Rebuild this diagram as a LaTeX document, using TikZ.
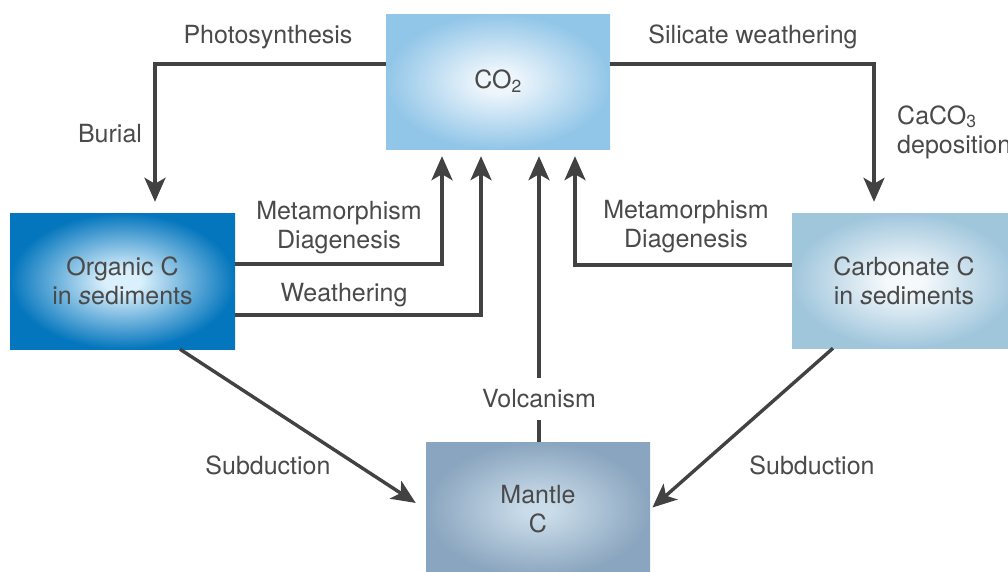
\documentclass[tikz,border=0pt]{standalone}
\usepackage{fontspec}
\setmainfont{TeX Gyre Heros}
\usetikzlibrary{arrows.meta}
\definecolor{txt}{HTML}{4A4A4A}
\definecolor{ln}{HTML}{424242}
\definecolor{coin}{RGB}{238,246,252}
\definecolor{coout}{RGB}{146,198,232}
\definecolor{orin}{RGB}{218,240,252}
\definecolor{orout}{RGB}{4,118,189}
\definecolor{cain}{RGB}{245,249,252}
\definecolor{caout}{RGB}{160,198,220}
\definecolor{main}{RGB}{202,220,233}
\definecolor{maout}{RGB}{138,165,191}
\pgfdeclareradialshading{coshade}{\pgfpoint{0bp}{0bp}}{color(0bp)=(coin); color(4bp)=(coin); color(25bp)=(coout); color(50bp)=(coout)}
\pgfdeclareradialshading{orshade}{\pgfpoint{0bp}{0bp}}{color(0bp)=(orin); color(4bp)=(orin); color(25bp)=(orout); color(50bp)=(orout)}
\pgfdeclareradialshading{cashade}{\pgfpoint{0bp}{0bp}}{color(0bp)=(cain); color(4bp)=(cain); color(25bp)=(caout); color(50bp)=(caout)}
\pgfdeclareradialshading{mashade}{\pgfpoint{0bp}{0bp}}{color(0bp)=(main); color(3bp)=(main); color(25bp)=(maout); color(50bp)=(maout)}
\tikzset{
  box/.style={rectangle, inner sep=0pt, minimum width=224pt, minimum height=135pt, text=txt, align=center, font=\fontsize{25}{29}\selectfont},
  lbl/.style={text=txt, align=center, inner sep=0pt, font=\fontsize{25}{29}\selectfont},
  arr/.style={ln, line width=3.4pt, -{Stealth[length=24pt,width=21pt,inset=6pt]}},
  plain/.style={ln, line width=3.4pt}
}
\begin{document}
\begin{tikzpicture}[x=1pt,y=-1pt]
\useasboundingbox (0,0) rectangle (1008,571);
\fill[white] (0,0) rectangle (1008,571);
% boxes
\node[box, shading=coshade] (co2) at (498,81.5) {CO\textsubscript{2}};
\node[box, minimum width=225pt, minimum height=136pt, shading=orshade] (org) at (122.5,281) {Organic C\\ in \textit{s}ediments};
\node[box, shading=cashade] (carb) at (904,280.5) {Carbonate C\\ in \textit{s}ediments};
\node[box, shading=mashade] (mant) at (538,509.5) {Mantle\\ C};
% labels
\node[lbl] (lphot) at (268,37) {Photosynthesis};
\node[lbl] (lbur) at (110,134) {Burial};
\node[lbl] (lsil) at (753,37) {Silicate weathering};
\node[lbl, anchor=west, align=left] (lcac) at (897,132) {CaCO\textsubscript{3}\\deposition};
\node[lbl] (lmd1) at (339,228) {Metamorphism\\Diagenesis};
\node[lbl] (lwea) at (344,295) {Weathering};
\node[lbl] (lmd2) at (686,227) {Metamorphism\\Diagenesis};
\node[lbl, minimum height=42pt] (lvol) at (539,399) {Volcanism};
\node[lbl] (lsub1) at (268,465) {Subduction};
\node[lbl] (lsub2) at (812,465) {Subduction};
% connectors
\draw[arr, shorten >=11pt] (co2.west |- 0,64) -| (org.north -| 155,0);
\draw[arr, shorten >=11pt] (co2.east |- 0,64) -| (carb.north -| 874,0);
\draw[arr, shorten >=7pt] (org.east |- 0,264) -| (co2.south -| 442,0);
\draw[arr, shorten >=7pt] (org.east |- 0,315) -| (co2.south -| 481,0);
\draw[arr, shorten >=7pt] (carb.west |- 0,265) -| (co2.south -| 575,0);
\draw[plain] (mant.north -| lvol.south) -- (lvol.south);
\draw[arr, shorten >=7pt] (lvol.north) -- (co2.south -| lvol.north);
\draw[arr, shorten >=12pt] (org.south -| 180,0) -- (mant.west);
\draw[arr, shorten >=3pt] (carb.south -| 833,0) -- (mant.east);
\end{tikzpicture}
\end{document}
